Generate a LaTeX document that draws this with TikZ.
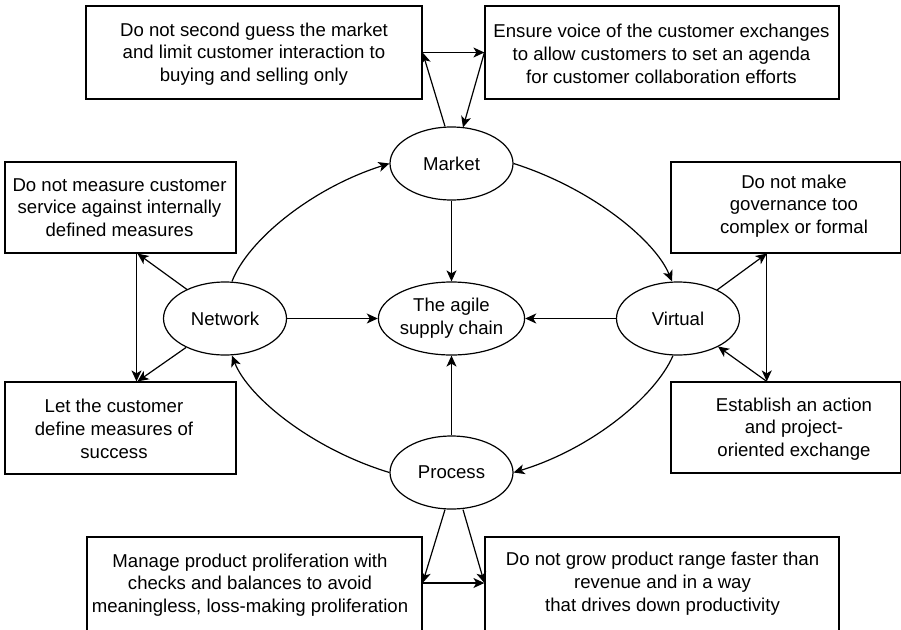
\documentclass[tikz,border=0pt]{standalone}
\usepackage{fontspec}
\setmainfont{Liberation Sans}
\usetikzlibrary{arrows.meta,calc,shapes.geometric}
\begin{document}
\begin{tikzpicture}[x=1pt,y=-1pt,
  every node/.style={font=\fontsize{18.6}{22.7}\selectfont},
  box/.style={draw,line width=1.2pt,inner sep=0pt},
  ell/.style={draw,ellipse,line width=1.2pt,minimum width=123pt,minimum height=73pt,inner sep=0pt,align=center},
  txt/.style={align=center,inner sep=0pt},
  arr/.style={line width=1.2pt,-{Stealth[length=11pt,width=10pt,inset=3pt]}}]
\useasboundingbox (0,0) rectangle (901,629);
\clip (0,0) rectangle (901,629);
\fill[white] (0,0) rectangle (901,629);

% ellipses
\node[ell] (m) at (451.5,163.5) {Market};
\node[ell] (n) at (225,318.5) {Network};
\node[ell] (a) at (451.5,318.5) {The agile\\supply chain};
\node[ell] (v) at (678,318.5) {Virtual};
\node[ell] (p) at (451.5,472.5) {Process};

% boxes
\node[box,minimum width=336pt,minimum height=93pt] (tl) at (254,52.5) {};
\node[txt] (tlt) at (254,54) {Do not second guess the market\\and limit customer interaction to\\buying and selling only};
\node[box,minimum width=354pt,minimum height=93pt] (tr) at (662,52.5) {};
\node[txt] (trt) at (661.5,54) {Ensure voice of the customer exchanges\\to allow customers to set an agenda\\for customer collaboration efforts};
\node[box,minimum width=231pt,minimum height=91pt] (l1) at (120.5,207.5) {};
\node[txt] (l1t) at (119.5,207.5) {Do not measure customer\\service against internally\\defined measures};
\node[box,minimum width=231pt,minimum height=92pt] (l2) at (120.5,428) {};
\node[txt] (l2t) at (114,429) {Let the customer\\define measures of\\success};
\node[box,minimum width=229.5pt,minimum height=91pt] (r1) at (785.75,207.5) {};
\node[txt] (r1t) at (794,206) {Do not make\\governance too\\complex or formal};
\node[box,minimum width=229.5pt,minimum height=91pt] (r2) at (785.75,427.5) {};
\node[txt] (r2t) at (794,429) {Establish an action\\and project-\\oriented exchange};
\node[box,minimum width=335pt,minimum height=96pt] (bl) at (254.5,585) {};
\node[txt] (blt) at (250,585) {Manage product proliferation with\\checks and balances to avoid\\meaningless, loss-making proliferation};
\node[box,minimum width=354pt,minimum height=96pt] (br) at (662,585) {};
\node[txt] (brt) at (662.5,583.5) {Do not grow product range faster than\\revenue and in a way\\that drives down productivity};

% top triangle
\draw[arr] ($(m.north)+(-6.5,0)$) -- (tl.east);
\draw[arr] (tl.east) -- (tr.west);
\draw[arr] (tr.west) -- ($(m.north)+(11.5,1)$);

% to centre
\draw[arr] (m.south) -- (a.north);
\draw[arr] (n.east) -- (a.west);
\draw[arr] (v.west) -- (a.east);
\draw[arr] (p.north) -- (a.south);

% left triangle
\draw[arr] ($(n.center)+(-38,-29)$) -- ($(l1.south)+(17,0)$);
\draw[arr] ($(l1.south)+(16,0)$) -- ($(l2.north)+(16,0)$);
\draw[arr] ($(n.center)+(-39,29)$) -- ($(l2.north)+(17,0)$);

% right triangle
\draw[arr] ($(v.center)+(39,-28.5)$) -- ($(r1.south)+(-19,0)$);
\draw[arr] ($(r1.south)+(-19,0)$) -- ($(r2.north)+(-19,0)$);
\draw[arr] ($(r2.north)+(-19,0)$) -- ($(v.center)+(40,28)$);

% bottom triangle
\coordinate (ble) at ($(bl.east)+(0,-2)$);
\coordinate (brw) at ($(br.west)+(0,-2)$);
\draw[arr] ($(p.south)+(-6.5,0)$) -- (ble);
\draw[arr] (ble) -- (brw);
\draw[arr] ($(p.south)+(11.5,0)$) -- (brw);

% outer cycle
\draw[arr] ($(n.north)+(7,0)$) .. controls (248,240) and (312,188) .. (m.west);
\draw[arr] (m.east) .. controls (591,188) and (655,240) .. ($(v.north)+(-6,0)$);
\draw[arr] ($(v.south)+(-5,0)$) .. controls (655,397) and (591,449) .. (p.east);
\draw[arr] (p.west) .. controls (312,449) and (248,397) .. ($(n.south)+(7,0)$);
\end{tikzpicture}
\end{document}
